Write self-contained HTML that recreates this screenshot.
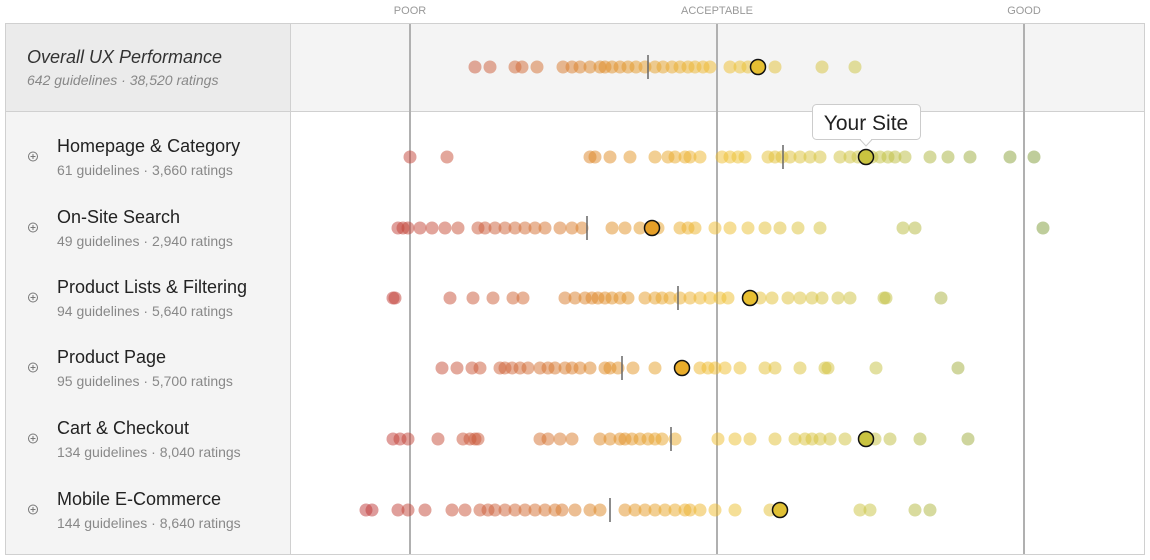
<!DOCTYPE html>
<html><head><meta charset="utf-8"><style>
body{margin:0;width:1150px;height:560px;background:#fff;font-family:"Liberation Sans",sans-serif;overflow:hidden;position:relative}
svg{position:absolute;left:0;top:0}
</style></head><body>
<svg id="s" width="1150" height="560" xmlns="http://www.w3.org/2000/svg">
<rect x="5.5" y="23.5" width="1139" height="531" fill="#fff" stroke="#d0d0d0"/>
<rect x="6" y="24" width="284" height="87" fill="#ebebeb"/>
<rect x="291" y="24" width="853" height="87" fill="#f4f4f4"/>
<rect x="6" y="112" width="284" height="442" fill="#f4f4f4"/>
<line x1="6" y1="111.5" x2="1144" y2="111.5" stroke="#d0d0d0"/>
<line x1="290.5" y1="24" x2="290.5" y2="554" stroke="#d0d0d0"/>
<g stroke="#b0b0b0" stroke-width="2"><line x1="410" y1="24" x2="410" y2="554"/><line x1="717" y1="24" x2="717" y2="554"/><line x1="1024" y1="24" x2="1024" y2="554"/></g>
<g font-size="11" fill="#999" text-anchor="middle"><text x="410" y="14">POOR</text><text x="717" y="14">ACCEPTABLE</text><text x="1024" y="14">GOOD</text></g>
<text x="27" y="63" font-size="18" font-style="italic" fill="#333">Overall UX Performance</text>
<text x="27" y="85" font-size="14" font-style="italic" fill="#888">642 guidelines · 38,520 ratings</text>
<g id="rows"></g>
<g id="dots"></g>
<g>
<rect x="812.5" y="104.5" width="108" height="35" rx="4" fill="#fff" stroke="#ccc"/>
<path d="M860 139.5 L866 146 L872 139.5" fill="#fff" stroke="#ccc"/>
<rect x="861" y="137" width="10" height="3" fill="#fff"/>
<text x="866" y="130" font-size="21" text-anchor="middle" fill="#222">Your Site</text>
</g>
</svg>
<script>
const rows=[
[67,648,758,[475,490,515,522,537,563,572,580,590,600,605,612,620,628,636,645,655,663,672,680,688,695,703,710,730,740,748,775,822,855]],
[157,783,866,[410,447,590,595,610,630,655,668,675,685,690,700,722,730,738,745,768,775,782,790,800,810,820,840,850,858,872,880,888,895,905,930,948,970,1010,1034]],
[228,587,652,[398,403,408,420,432,445,458,478,485,495,505,515,525,535,545,560,572,582,612,625,640,658,680,688,695,715,730,748,765,780,798,820,903,915,1043]],
[298,678,750,[393,395,450,473,493,513,523,565,575,585,592,598,605,612,620,628,645,655,662,670,680,690,700,710,720,728,760,772,788,800,812,822,838,850,884,886,941]],
[368,622,682,[442,457,472,480,500,505,512,520,528,540,548,555,565,572,580,590,605,610,618,633,655,700,708,715,725,740,765,775,800,825,828,876,958]],
[439,671,866,[393,400,408,438,463,470,475,478,540,548,560,572,600,610,620,625,632,640,648,655,662,675,718,735,750,775,795,805,812,820,830,845,875,890,920,968]],
[510,610,780,[366,372,398,408,425,452,465,480,488,495,505,515,525,535,545,555,562,575,590,600,625,635,645,655,665,675,685,690,700,715,735,770,860,870,915,930]]];
const labels=[["Homepage &amp; Category","61 guidelines · 3,660 ratings"],["On-Site Search","49 guidelines · 2,940 ratings"],["Product Lists &amp; Filtering","94 guidelines · 5,640 ratings"],["Product Page","95 guidelines · 5,700 ratings"],["Cart &amp; Checkout","134 guidelines · 8,040 ratings"],["Mobile E-Commerce","144 guidelines · 8,640 ratings"]];
const stops=[[370,[190,55,55]],[500,[205,95,55]],[600,[222,135,35]],[720,[240,190,45]],[870,[200,195,65]],[1040,[125,155,55]]];
function col(x){if(x<=stops[0][0])return stops[0][1];for(let i=1;i<stops.length;i++){if(x<=stops[i][0]){const a=stops[i-1],b=stops[i],t=(x-a[0])/(b[0]-a[0]);return a[1].map((v,k)=>Math.round(v+(b[1][k]-v)*t));}}return stops[stops.length-1][1];}
let h="",r="";
rows.forEach((row,i)=>{const [y,m,s,xs]=row;
 xs.forEach(x=>{const c=col(x);h+=`<circle cx="${x}" cy="${y}" r="6.5" fill="rgb(${c})" fill-opacity="0.5"/>`;});
 h+=`<line x1="${m}" y1="${y-12}" x2="${m}" y2="${y+12}" stroke="#666" stroke-width="1.5"/>`;
 const c=col(s);h+=`<circle cx="${s}" cy="${y}" r="7.5" fill="rgb(${c})" stroke="#111" stroke-width="1.5"/>`;
 if(i>0){const l=labels[i-1];
 r+=`<circle cx="33" cy="${y-0.5}" r="4.5" fill="none" stroke="#777"/><line x1="30.5" y1="${y-0.5}" x2="35.5" y2="${y-0.5}" stroke="#777"/><line x1="33" y1="${y-3}" x2="33" y2="${y+2}" stroke="#777"/>`;
 r+=`<text x="57" y="${y-5}" font-size="18" fill="#222">${l[0]}</text><text x="57" y="${y+18}" font-size="14" fill="#888">${l[1]}</text>`;}
});
document.getElementById("dots").innerHTML=h;document.getElementById("rows").innerHTML=r;
</script>
</body></html>
